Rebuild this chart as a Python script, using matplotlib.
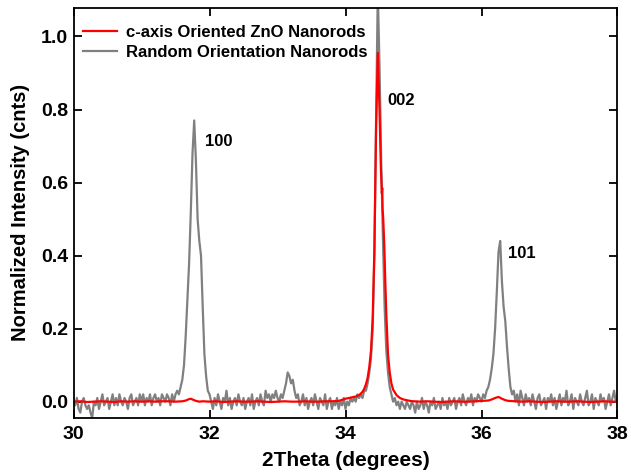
import numpy as np
import matplotlib
matplotlib.use("Agg")
import matplotlib.pyplot as plt

plt.rcParams["font.family"] = ["Liberation Sans", "DejaVu Sans"]
plt.rcParams["font.weight"] = "bold"

# Random orientation nanorods, scan 30-38 deg, 0.025 deg step
random_intensity = [
    # 30
    0.00, -0.01, 0.01, -0.02, -0.03, 0.00, 0.01, -0.01, -0.02, -0.01,
    -0.03, -0.045, 0.00, -0.01, 0.01, -0.02, 0.00, 0.02, -0.01, 0.00,
    0.01, -0.02, 0.00, 0.02, -0.01, 0.01, -0.01, 0.02, 0.00, -0.01,
    0.01, 0.00, -0.02, 0.01, 0.02, -0.01, 0.00, 0.01, -0.01, 0.02,
    # 31
    0.00, 0.02, -0.01, 0.01, 0.00, 0.02, -0.01, 0.01, 0.02, 0.00,
    0.01, -0.01, 0.02, 0.01, 0.00, 0.02, 0.01, -0.01, 0.02, 0.00,
    0.02, 0.03, 0.02, 0.04, 0.06, 0.10, 0.18, 0.28, 0.38, 0.52,
    0.68, 0.77, 0.66, 0.50, 0.44, 0.40, 0.26, 0.13, 0.07, 0.03,
    # 32
    0.02, 0.00, -0.02, 0.01, -0.01, 0.02, 0.00, -0.02, 0.01, 0.00,
    0.03, -0.01, 0.01, -0.02, 0.00, 0.01, -0.01, 0.02, 0.00, -0.01,
    0.01, -0.02, 0.00, 0.01, -0.01, 0.02, -0.02, 0.00, 0.01, -0.01,
    0.02, 0.00, -0.01, 0.03, 0.01, 0.02, 0.00, 0.02, 0.01, 0.03,
    # 33
    0.01, 0.00, 0.02, 0.01, 0.03, 0.05, 0.08, 0.07, 0.05, 0.06,
    0.03, 0.01, 0.02, -0.01, 0.00, 0.02, -0.01, 0.01, -0.02, 0.00,
    0.01, -0.01, 0.02, 0.00, -0.02, 0.01, 0.00, -0.01, 0.02, -0.02,
    0.00, 0.01, -0.02, 0.00, -0.01, 0.01, -0.02, 0.00, -0.01, 0.01,
    # 34
    -0.02, 0.00, -0.01, 0.01, 0.00, 0.01, 0.00, 0.02, 0.01, 0.02,
    0.01, 0.03, 0.03, 0.05, 0.08, 0.12, 0.20, 0.40, 0.78, 1.12,
    0.92, 0.66, 0.45, 0.26, 0.14, 0.08, 0.04, 0.02, 0.00, 0.01,
    -0.01, 0.00, -0.02, 0.00, -0.01, -0.02, 0.00, -0.01, -0.02, 0.00,
    # 35
    -0.01, -0.03, 0.00, -0.02, -0.01, 0.01, -0.02, 0.00, -0.01, -0.03,
    0.00, -0.01, 0.01, -0.02, -0.01, 0.00, -0.02, 0.01, -0.01, 0.00,
    -0.02, 0.01, -0.01, 0.00, 0.01, -0.02, 0.00, 0.01, -0.01, 0.02,
    0.00, -0.01, 0.01, 0.00, 0.02, -0.01, 0.01, 0.00, 0.02, 0.01,
    # 36
    0.00, 0.02, 0.01, 0.03, 0.04, 0.06, 0.09, 0.13, 0.20, 0.30,
    0.41, 0.44, 0.33, 0.26, 0.22, 0.15, 0.09, 0.04, 0.02, 0.03,
    0.00, 0.02, -0.01, 0.03, 0.01, -0.01, 0.02, 0.00, 0.01, -0.01,
    0.02, 0.00, -0.02, 0.01, 0.02, -0.01, 0.00, 0.01, -0.02, 0.01,
    # 37
    0.00, 0.02, -0.01, 0.01, -0.02, 0.00, 0.02, -0.01, 0.01, 0.00,
    0.03, -0.01, 0.00, 0.02, -0.02, 0.01, 0.00, -0.01, 0.02, 0.00,
    -0.01, 0.01, 0.03, -0.01, 0.00, 0.02, -0.02, 0.01, 0.00, -0.01,
    0.02, 0.00, 0.01, -0.02, 0.00, 0.02, -0.01, 0.01, 0.03, 0.00,
    # 38
    0.01,
]
random_theta = np.linspace(30, 38, len(random_intensity))

# c-axis oriented ZnO nanorods
oriented_theta = [
    30.0, 30.1, 30.2, 30.3, 30.4, 30.5, 30.6, 30.7, 30.8, 30.9,
    31.0, 31.1, 31.2, 31.3, 31.4, 31.5, 31.6, 31.65, 31.7, 31.725,
    31.75, 31.8, 31.85, 31.9, 32.0, 32.1, 32.2, 32.3, 32.4, 32.5,
    32.6, 32.7, 32.8, 32.9, 33.0, 33.1, 33.2, 33.3, 33.4, 33.5,
    33.6, 33.7, 33.8, 33.9, 33.95, 34.0, 34.05, 34.1, 34.15, 34.2,
    34.225, 34.25, 34.275, 34.3, 34.325, 34.35, 34.375, 34.4, 34.425, 34.45,
    34.475, 34.5, 34.52, 34.535, 34.54, 34.545, 34.555, 34.57, 34.585, 34.6,
    34.625, 34.65, 34.675, 34.7, 34.75, 34.8, 34.85, 34.9, 34.95, 35.0,
    35.1, 35.2, 35.3, 35.4, 35.5, 35.6, 35.7, 35.8, 35.9, 36.0,
    36.1, 36.15, 36.2, 36.25, 36.3, 36.35, 36.4, 36.5, 36.6, 36.7,
    36.8, 36.9, 37.0, 37.1, 37.2, 37.3, 37.4, 37.5, 37.6, 37.7,
    37.8, 37.9, 38.0,
]
oriented_intensity = [
    0.000, 0.001, -0.001, 0.000, 0.001, 0.000, -0.001, 0.001, 0.000, 0.001,
    0.000, 0.001, 0.000, 0.001, 0.001, 0.000, 0.001, 0.003, 0.007, 0.008,
    0.006, 0.002, 0.000, 0.001, 0.000, 0.001, -0.001, 0.000, 0.001, 0.000,
    0.000, 0.001, 0.000, -0.001, 0.000, 0.001, 0.000, 0.000, 0.001, 0.000,
    0.000, 0.001, 0.001, 0.002, 0.005, 0.008, 0.010, 0.012, 0.014, 0.018,
    0.022, 0.027, 0.035, 0.047, 0.065, 0.095, 0.14, 0.23, 0.42, 0.75,
    0.955, 0.80, 0.64, 0.57, 0.585, 0.53, 0.50, 0.43, 0.33, 0.24,
    0.13, 0.08, 0.05, 0.033, 0.018, 0.010, 0.006, 0.004, 0.002, 0.001,
    0.000, 0.001, 0.000, -0.001, 0.000, 0.001, 0.000, 0.000, 0.001, 0.002,
    0.003, 0.006, 0.010, 0.013, 0.008, 0.004, 0.002, 0.001, 0.000, 0.001,
    0.000, -0.001, 0.000, 0.001, 0.000, 0.000, 0.001, 0.000, -0.001, 0.000,
    0.001, 0.000, 0.000,
]

# Peak labels (hkl) and where they sit
peak_labels = ["100", "002", "101"]
peak_label_x = [32.13, 34.82, 36.60]
peak_label_y = [0.712, 0.825, 0.405]

fig = plt.figure(figsize=(6.31, 4.75), dpi=100)
ax = fig.add_axes([0.1165, 0.1206, 0.8621, 0.8626])

ax.plot(random_theta, random_intensity, color="#808080", linewidth=1.6,
        label="Random Orientation Nanorods")
ax.plot(oriented_theta, oriented_intensity, color="#ff0000", linewidth=1.6,
        label="c-axis Oriented ZnO Nanorods")

for txt, px, py in zip(peak_labels, peak_label_x, peak_label_y):
    ax.text(px, py, txt, ha="center", va="center", fontsize=12, fontweight="bold")

ax.set_xlim(30, 38)
ax.set_ylim(-0.044, 1.078)
ax.set_xticks([30, 32, 34, 36, 38])
ax.set_yticks([0.0, 0.2, 0.4, 0.6, 0.8, 1.0])
ax.yaxis.set_major_formatter(matplotlib.ticker.FormatStrFormatter("%.1f"))

ax.tick_params(direction="in", length=6, width=1.3, top=True, right=True,
               labelsize=14)
ax.tick_params(axis="x", pad=6)
ax.tick_params(axis="y", pad=4)
for s in ax.spines.values():
    s.set_linewidth(1.3)

ax.set_xlabel("2Theta (degrees)", fontsize=15, fontweight="bold", labelpad=6)
ax.set_ylabel("Normalized Intensity (cnts)", fontsize=14.5, fontweight="bold", labelpad=8)

handles, labels = ax.get_legend_handles_labels()
ax.legend(handles[::-1], labels[::-1], loc="upper left", bbox_to_anchor=(0.0175, 0.958),
          borderaxespad=0, borderpad=0, frameon=False,
          handlelength=2.05, handletextpad=0.54, labelspacing=0.28,
          prop={"weight": "bold", "size": 12})

fig.savefig("out.png", dpi=100)
